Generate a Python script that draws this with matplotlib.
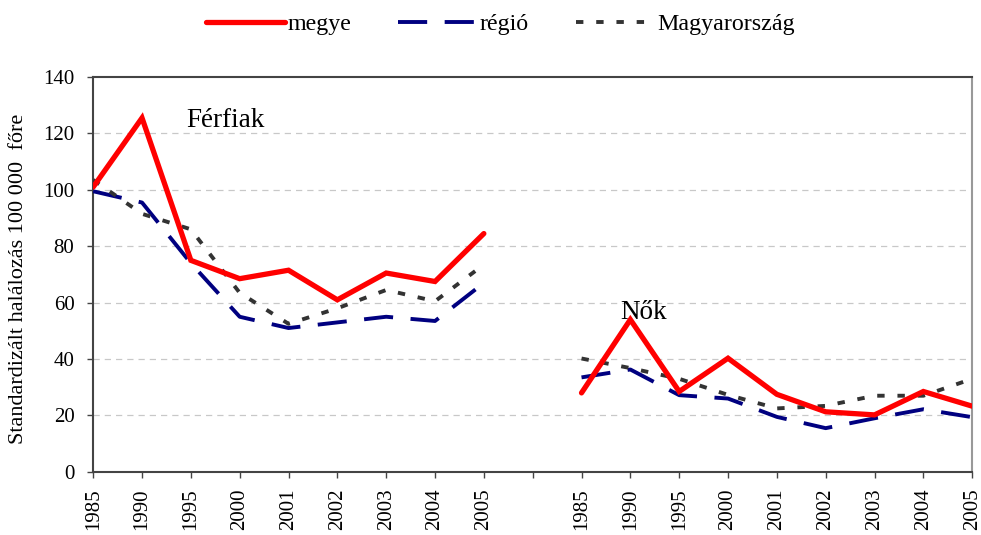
import numpy as np
import matplotlib.pyplot as plt

plt.rcParams['font.family'] = ['Liberation Serif', 'DejaVu Serif']

years = ['1985', '1990', '1995', '2000', '2001', '2002', '2003', '2004', '2005']

# Férfiak
megye_ferfi = [101, 125.5, 75, 68.5, 71.5, 61, 70.5, 67.5, 84.5]
regio_ferfi = [99.5, 95.5, 74, 55, 51, 53, 55, 53.5, 67]
orszag_ferfi = [103.5, 91.5, 86, 63.5, 52.5, 58, 64.5, 60.5, 73.5]

# Nők
megye_no = [28, 54, 28.5, 40.3, 27.5, 21.3, 20.2, 28.5, 23.3]
regio_no = [33.5, 36.3, 27.2, 26, 19.5, 15.5, 19, 22.2, 19.4]
orszag_no = [40.2, 36.8, 33, 27.3, 22.5, 23.4, 27, 27, 33]

labels = years + [''] + years
x = np.arange(len(labels))


def join(a, b):
    return np.array(list(a) + [np.nan] + list(b), dtype=float)


fig = plt.figure(figsize=(9.81, 5.35), dpi=100)
ax = fig.add_axes([0.095, 0.118, 0.896, 0.738])

ax.plot(x, join(megye_ferfi, megye_no), color='#ff0000', lw=3.8,
        solid_joinstyle='miter', solid_capstyle='round', label='megye', zorder=4)
ax.plot(x, join(regio_ferfi, regio_no), color='#000080', lw=2.8,
        dashes=(7.5, 4.5), label='régió', zorder=3)
ax.plot(x, join(orszag_ferfi, orszag_no), color='#333333', lw=2.8,
        dashes=(1.9, 3.3), label='Magyarország', zorder=3)

ax.set_xlim(0, len(labels) - 1)
ax.set_ylim(0, 140)
ax.set_yticks(range(0, 141, 20))
ax.set_xticks(x)
ax.set_xticklabels(labels, rotation=90, fontsize=15)
ax.tick_params(axis='y', labelsize=15, length=4.5, width=1, color='#444444', pad=9)
ax.tick_params(axis='x', length=4.5, width=1, color='#444444', pad=7.5)

for v in range(20, 140, 20):
    ax.axhline(v, color='#c8c8c8', lw=0.9, dashes=(5, 4), zorder=1)

for side in ['left', 'bottom', 'top']:
    ax.spines[side].set_color('#444444')
    ax.spines[side].set_linewidth(1.5)
ax.spines['right'].set_color('#999999')
ax.spines['right'].set_linewidth(1.5)

ax.set_ylabel('Standardizált halálozás 100 000  főre', fontsize=16)
ax.yaxis.set_label_coords(-0.074, 0.49)

ax.text(1.9, 124.5, 'Férfiak', fontsize=19.5, va='center', ha='left')
ax.text(10.8, 56.5, 'Nők', fontsize=19.5, va='center', ha='left')

fig.legend(loc='upper center', bbox_to_anchor=(0.51, 1.015), ncol=3, frameon=False,
           fontsize=17.3, handlelength=3.3, handletextpad=0.1, columnspacing=1.95)

fig.savefig('out.png', dpi=100)
